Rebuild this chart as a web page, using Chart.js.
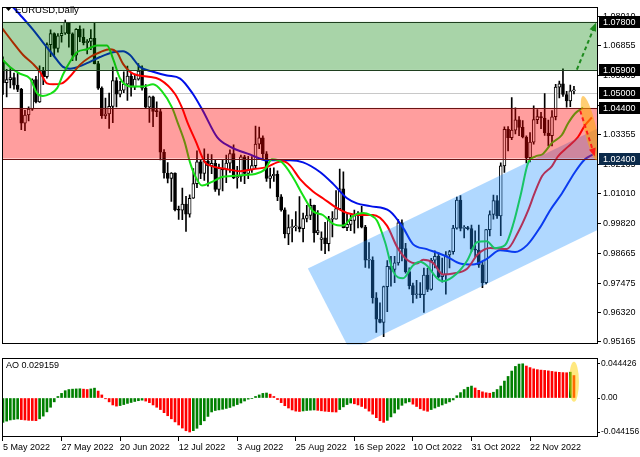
<!DOCTYPE html>
<html>
<head>
<meta charset="utf-8">
<script src="https://cdn.jsdelivr.net/npm/chart.js@4.4.1/dist/chart.umd.min.js"></script>
<style>
  body { margin: 0; background: #fff; width: 640px; height: 457px; overflow: hidden; position: relative; }
  canvas { position: absolute; left: 0; }
  #price { top: 0; }
  #ao { top: 352px; }
</style>
</head>
<body>
<canvas id="price" width="640" height="352" style="width:640px;height:352px"></canvas>
<canvas id="ao" width="640" height="105" style="width:640px;height:105px"></canvas>
<script>
// EURUSD daily, 5 May - 8 Dec 2022 (bar 127 is the short Sunday bar)
const opens = [1.0621,1.0540,1.0552,1.0560,1.0530,1.0513,1.0380,1.0412,1.0435,1.0552,
  1.0464,1.0585,1.0563,1.0690,1.0734,1.0675,1.0725,1.0735,1.0778,1.0733,
  1.0648,1.0750,1.0719,1.0698,1.0703,1.0715,1.0615,1.0518,1.0409,1.0416,
  1.0446,1.0548,1.0494,1.0510,1.0534,1.0566,1.0522,1.0554,1.0585,1.0518,
  1.0443,1.0484,1.0426,1.0425,1.0265,1.0183,1.0161,1.0183,1.0038,1.0036,
  1.0060,1.0020,1.0083,1.0141,1.0227,1.0181,1.0230,1.0212,1.0221,1.0118,
  1.0201,1.0195,1.0222,1.0260,1.0163,1.0169,1.0247,1.0181,1.0196,1.0212,
  1.0297,1.0322,1.0259,1.0161,1.0172,1.0178,1.0089,1.0037,0.9942,0.9967,
  0.9970,0.9970,0.9963,1.0003,1.0015,1.0055,0.9946,0.9920,0.9927,0.9904,
  1.0000,1.0000,1.0042,1.0120,0.9967,0.9980,0.9996,1.0015,1.0025,0.9969,
  0.9838,0.9839,0.9690,0.9605,0.9593,0.9734,0.9814,0.9802,0.9828,0.9986,
  0.9884,0.9793,0.9738,0.9702,0.9705,0.9702,0.9780,0.9723,0.9838,0.9854,
  0.9773,0.9782,0.9859,0.9872,0.9965,1.0076,0.9964,0.9966,0.9963,0.9882,
  0.9878,0.9820,0.9750,0.9959,1.0019,1.0074,1.0013,1.0211,1.0355,1.0322,
  1.0352,1.0393,1.0363,1.0325,1.0243,1.0305,1.0394,1.0406,1.0400,1.0341,
  1.0330,1.0405,1.0522,1.0535,1.0493,1.0468,1.0507];
const highs = [1.0642,1.0592,1.0595,1.0578,1.0577,1.0517,1.0430,1.0444,1.0555,1.0565,
  1.0606,1.0600,1.0697,1.0748,1.0737,1.0734,1.0765,1.0787,1.0778,1.0737,
  1.0753,1.0764,1.0752,1.0710,1.0749,1.0774,1.0624,1.0523,1.0479,1.0499,
  1.0601,1.0560,1.0545,1.0583,1.0605,1.0579,1.0570,1.0615,1.0606,1.0532,
  1.0487,1.0487,1.0464,1.0438,1.0275,1.0224,1.0185,1.0184,1.0052,1.0123,
  1.0091,1.0097,1.0200,1.0270,1.0233,1.0278,1.0258,1.0256,1.0236,1.0218,
  1.0234,1.0254,1.0274,1.0294,1.0209,1.0254,1.0253,1.0249,1.0248,1.0368,
  1.0364,1.0330,1.0267,1.0202,1.0203,1.0191,1.0098,1.0045,1.0018,0.9999,
  1.0030,1.0090,1.0025,1.0055,1.0080,1.0056,1.0034,0.9950,0.9988,1.0012,
  1.0030,1.0113,1.0198,1.0187,1.0020,1.0018,1.0036,1.0030,1.0051,0.9976,
  0.9908,0.9852,0.9710,0.9670,0.9736,0.9837,0.9854,0.9854,0.9999,0.9998,
  0.9905,0.9808,0.9748,0.9759,0.9750,0.9807,0.9806,0.9846,0.9875,0.9867,
  0.9847,0.9872,0.9877,0.9976,1.0088,1.0094,0.9975,0.9972,0.9977,0.9954,
  0.9977,0.9830,0.9960,1.0033,1.0096,1.0094,1.0223,1.0365,1.0366,1.0481,
  1.0440,1.0406,1.0390,1.0330,1.0343,1.0448,1.0433,1.0423,1.0497,1.0392,
  1.0429,1.0533,1.0546,1.0594,1.0505,1.0530,1.0525];
const lows = [1.0493,1.0483,1.0519,1.0514,1.0504,1.0354,1.0350,1.0389,1.0430,1.0460,
  1.0462,1.0532,1.0557,1.0642,1.0643,1.0660,1.0700,1.0730,1.0680,1.0627,
  1.0628,1.0702,1.0689,1.0653,1.0670,1.0614,1.0513,1.0398,1.0397,1.0359,
  1.0382,1.0444,1.0483,1.0500,1.0470,1.0486,1.0512,1.0550,1.0510,1.0438,
  1.0383,1.0366,1.0405,1.0235,1.0162,1.0144,1.0071,1.0033,0.9999,0.9998,
  0.9952,1.0008,1.0082,1.0125,1.0160,1.0154,1.0131,1.0180,1.0110,1.0095,
  1.0112,1.0145,1.0185,1.0160,1.0123,1.0150,1.0141,1.0160,1.0185,1.0202,
  1.0279,1.0236,1.0150,1.0123,1.0150,1.0074,1.0032,0.9926,0.9900,0.9911,
  0.9954,0.9950,0.9911,0.9990,0.9998,0.9910,0.9939,0.9877,0.9864,0.9875,
  0.9930,1.0000,1.0038,0.9966,0.9955,0.9955,0.9945,0.9966,0.9966,0.9810,
  0.9807,0.9669,0.9553,0.9591,0.9536,0.9635,0.9736,0.9750,0.9819,0.9836,
  0.9787,0.9725,0.9670,0.9687,0.9690,0.9632,0.9714,0.9720,0.9808,0.9768,
  0.9752,0.9704,0.9808,0.9862,0.9961,0.9954,0.9926,0.9958,0.9872,0.9851,
  0.9810,0.9730,0.9745,0.9934,1.0000,1.0003,0.9935,1.0185,1.0270,1.0315,
  1.0337,1.0330,1.0321,1.0223,1.0227,1.0297,1.0378,1.0358,1.0331,1.0290,
  1.0290,1.0393,1.0479,1.0485,1.0443,1.0445,1.0495];
const closes = [1.0540,1.0552,1.0560,1.0530,1.0513,1.0380,1.0412,1.0435,1.0551,1.0464,
  1.0585,1.0563,1.0690,1.0734,1.0675,1.0725,1.0735,1.0778,1.0733,1.0648,
  1.0750,1.0719,1.0698,1.0703,1.0715,1.0615,1.0518,1.0409,1.0416,1.0446,
  1.0548,1.0494,1.0510,1.0534,1.0566,1.0522,1.0554,1.0585,1.0518,1.0443,
  1.0484,1.0426,1.0425,1.0265,1.0183,1.0161,1.0183,1.0038,1.0036,1.0060,
  1.0020,1.0083,1.0141,1.0227,1.0181,1.0230,1.0212,1.0221,1.0118,1.0201,
  1.0195,1.0222,1.0260,1.0163,1.0169,1.0247,1.0181,1.0196,1.0212,1.0297,
  1.0322,1.0259,1.0161,1.0172,1.0178,1.0089,1.0037,0.9942,0.9967,0.9970,
  0.9970,0.9963,1.0003,1.0015,1.0055,0.9946,0.9955,0.9927,0.9904,1.0000,
  1.0000,1.0042,1.0120,0.9967,0.9980,0.9996,1.0015,1.0025,0.9969,0.9838,
  0.9839,0.9690,0.9605,0.9593,0.9734,0.9814,0.9802,0.9828,0.9986,0.9884,
  0.9793,0.9738,0.9702,0.9705,0.9702,0.9780,0.9723,0.9838,0.9854,0.9773,
  0.9782,0.9859,0.9872,0.9965,1.0076,0.9964,0.9966,0.9963,0.9882,0.9878,
  0.9820,0.9750,0.9959,1.0019,1.0074,1.0013,1.0211,1.0355,1.0322,1.0352,
  1.0393,1.0363,1.0325,1.0243,1.0305,1.0394,1.0406,1.0400,1.0341,1.0330,
  1.0405,1.0522,1.0535,1.0493,1.0468,1.0507,1.0510];

// Alligator lines (bar position, price)
const jawIdx = [1.4,2.5,5.2,8.2,10.9,13.7,16.4,18.3,21.9,26.5,30.1,32.8,34.7,37.4,41,44.8,48.4,51.9,54.6,58.5,62,67.5,72.1,78.4,82,86.6,90.2,94,96.7,100.3,105.7,109.3,112,115.8,121.3,124.9,128.4,132.2,135.8,139.9,143.2,146.7,149.5,152.7,156.3,159,161.2];
const jawVal = [1.0852,1.0841,1.0799,1.0749,1.0699,1.0649,1.0602,1.0595,1.0610,1.0641,1.0660,1.0664,1.0649,1.0602,1.0583,1.0568,1.0556,1.0495,1.0429,1.0325,1.0287,1.0256,1.0233,1.0233,1.0225,1.0187,1.0140,1.0083,1.0063,1.0052,1.0032,0.9967,0.9902,0.9882,0.9852,0.9825,0.9821,0.9844,0.9878,0.9871,0.9898,0.9967,1.0036,1.0102,1.0187,1.0237,1.0256];
const teethIdx = [-0.3,2.7,5.5,8.2,10.1,12.0,13.7,16.1,18.3,21.0,23.8,26.5,29.2,31.1,32.8,35.5,39.3,42.9,47.0,48.9,50.5,52.5,55.2,57.1,61.2,64.8,68.3,72.1,74.9,76.5,78.4,81.1,84.7,87.4,91.3,94.0,97.5,101.1,104.9,107.7,110.4,113.1,114.8,117.5,120.2,123.0,126.8,129.8,133.1,137.7,140.7,143.4,145.4,147.3,150.0,151.6,154.4,157.1,159.0,160.9];
const teethVal = [1.0756,1.0699,1.0649,1.0614,1.0583,1.0537,1.0533,1.0537,1.0564,1.0610,1.0641,1.0660,1.0672,1.0660,1.0614,1.0575,1.0564,1.0552,1.0495,1.0441,1.0379,1.0314,1.0225,1.0210,1.0198,1.0190,1.0198,1.0206,1.0225,1.0229,1.0213,1.0160,1.0110,1.0083,1.0044,1.0025,1.0017,1.0017,0.9975,0.9890,0.9840,0.9825,0.9840,0.9828,0.9782,0.9786,0.9805,0.9863,0.9887,0.9883,0.9948,1.0032,1.0109,1.0171,1.0210,1.0248,1.0287,1.0325,1.0371,1.0402];
const lipsIdx = [-0.3,1.9,4.6,7.4,9.3,10.9,12.8,14.8,16.4,18.3,20.2,23.0,25.7,28.4,30.1,32.0,34.7,38.3,41.0,43.4,46.2,47.8,49.7,51.1,52.5,54.4,57.1,59.8,62.6,66.1,68.9,71.6,73.5,76.2,79.0,82.0,84.7,87.4,90.2,92.9,95.6,98.4,100.3,102.2,104.4,106.6,109.3,112.0,113.9,115.8,118.6,120.2,124.0,126.8,129.5,132.2,134.4,137.2,139.5,141.5,143.4,145.4,147.3,150.0,152.7,154.4,156.3,158.5];
const lipsVal = [1.0633,1.0602,1.0575,1.0556,1.0498,1.0487,1.0495,1.0518,1.0572,1.0622,1.0660,1.0672,1.0687,1.0687,1.0633,1.0556,1.0525,1.0525,1.0533,1.0506,1.0441,1.0379,1.0302,1.0225,1.0171,1.0133,1.0148,1.0167,1.0171,1.0175,1.0179,1.0198,1.0237,1.0225,1.0171,1.0094,1.0032,1.0017,0.9982,0.9975,1.0013,1.0025,1.0017,0.9994,0.9909,0.9794,0.9767,0.9817,0.9832,0.9817,0.9767,0.9755,0.9786,0.9836,0.9909,0.9913,0.9886,0.9898,0.9985,1.0100,1.0220,1.0248,1.0256,1.0302,1.0333,1.0379,1.0418,1.0441];

// Awesome Oscillator, one value per bar
const aoValues = [-0.0316,-0.0300,-0.0285,-0.0278,-0.0272,-0.0280,-0.0285,-0.0290,-0.0292,-0.0294,
  -0.0270,-0.0235,-0.0180,-0.0120,-0.0050,0.0020,0.0060,0.0095,0.0110,0.0115,
  0.0118,0.0120,0.0115,0.0110,0.0118,0.0128,0.0090,0.0040,-0.0010,-0.0050,
  -0.0090,-0.0105,-0.0098,-0.0085,-0.0070,-0.0058,-0.0045,-0.0035,-0.0028,-0.0040,
  -0.0060,-0.0090,-0.0120,-0.0150,-0.0190,-0.0230,-0.0270,-0.0310,-0.0350,-0.0390,
  -0.0425,-0.044156,-0.0424,-0.0393,-0.0347,-0.0296,-0.0239,-0.0181,-0.0162,-0.0154,
  -0.0146,-0.0135,-0.0123,-0.0104,-0.0085,-0.0065,-0.0039,-0.0015,-0.0005,0.0020,
  0.0040,0.0060,0.0065,0.0050,0.0020,-0.0020,-0.0060,-0.0100,-0.0130,-0.0155,
  -0.0170,-0.0175,-0.0168,-0.0162,-0.0158,-0.0155,-0.0160,-0.0166,-0.0172,-0.0176,
  -0.0180,-0.0182,-0.0150,-0.0115,-0.0085,-0.0065,-0.0075,-0.0090,-0.0110,-0.0135,
  -0.0170,-0.0210,-0.0255,-0.0295,-0.0316,-0.0290,-0.0245,-0.0195,-0.0145,-0.0095,
  -0.0065,-0.0050,-0.0080,-0.0110,-0.0140,-0.0160,-0.0172,-0.0150,-0.0130,-0.0110,
  -0.0090,-0.0070,-0.0050,-0.0025,0.0030,0.0070,0.0110,0.0140,0.0155,0.0130,
  0.0100,0.0080,0.0068,0.0062,0.0075,0.0110,0.0155,0.0220,0.0280,0.0350,
  0.0410,0.0440,0.044426,0.0415,0.0395,0.0378,0.0368,0.0362,0.0358,0.0352,
  0.0345,0.0338,0.0333,0.0330,0.0328,0.0335,0.029159];

const tickIdx = [0, 16, 32, 48, 64, 80, 96, 112, 128, 144];
const tickLabels = ['5 May 2022', '27 May 2022', '20 Jun 2022', '12 Jul 2022', '3 Aug 2022',
  '25 Aug 2022', '16 Sep 2022', '10 Oct 2022', '31 Oct 2022', '22 Nov 2022'];
const priceTicks = [0.95165, 0.96320, 0.97475, 0.98665, 0.99820, 1.01010, 1.02165, 1.03355, 1.04510, 1.05665, 1.06855, 1.08010];
const aoTicks = [-0.044156, 0, 0.044426];
const levelPrices = [1.07800, 1.05900, 1.05000, 1.04400, 1.02400];
const greenZone = [1.0590, 1.0780];
const redZone = [1.0240, 1.0440];
const midLine = 1.0500;
const channelIdx = [83.3, 170, 170, 94.8];
const channelPrice = [0.98053, 1.04114, 1.00111, 0.94819];
const upArrowIdx = [156.8, 162.0];
const upArrowPrice = [1.0591, 1.0776];
const downArrowIdx = [157.7, 161.7];
const downArrowPrice = [1.0429, 1.0248];
const focusIdx = 160.4, focusPrice = 1.0360;
const aoFocus = 0.021;

// view window
const X_MIN = -0.273, X_MAX = 162.57;
const FONT = '"Liberation Sans", Arial, sans-serif';
const levelBoxColors = ['#000', '#000', '#000', '#000', '#0b2a4a'];

function arrow(ctx, x0, y0, x1, y1, color) {
  const ang = Math.atan2(y1 - y0, x1 - x0);
  const head = 9;
  ctx.strokeStyle = color;
  ctx.fillStyle = color;
  ctx.lineWidth = 2;
  ctx.setLineDash([4, 3]);
  ctx.beginPath();
  ctx.moveTo(x0, y0);
  ctx.lineTo(x1 - head * 0.8 * Math.cos(ang), y1 - head * 0.8 * Math.sin(ang));
  ctx.stroke();
  ctx.setLineDash([]);
  ctx.beginPath();
  ctx.moveTo(x1, y1);
  ctx.lineTo(x1 - head * Math.cos(ang - 0.4), y1 - head * Math.sin(ang - 0.4));
  ctx.lineTo(x1 - head * Math.cos(ang + 0.4), y1 - head * Math.sin(ang + 0.4));
  ctx.closePath();
  ctx.fill();
}

function frame(ctx, a) {
  ctx.strokeStyle = '#000';
  ctx.lineWidth = 1;
  ctx.strokeRect(Math.round(a.left) + 0.5, Math.round(a.top) + 0.5,
    Math.round(a.right - a.left) - 1, Math.round(a.bottom - a.top) - 1);
}

const priceDecor = {
  id: 'priceDecor',
  beforeDatasetsDraw(chart) {
    const { ctx, chartArea: a, scales: { y } } = chart;
    ctx.save();
    ctx.strokeStyle = '#c8c8c8';
    ctx.lineWidth = 1;
    const ym = Math.round(y.getPixelForValue(midLine)) + 0.5;
    ctx.beginPath(); ctx.moveTo(a.left, ym); ctx.lineTo(a.right, ym); ctx.stroke();
    ctx.restore();
  },
  afterDatasetsDraw(chart) {
    const { ctx, chartArea: a, scales: { x, y } } = chart;
    ctx.save();
    ctx.beginPath();
    ctx.rect(a.left, a.top, a.right - a.left, a.bottom - a.top);
    ctx.clip();

    // rising channel
    ctx.fillStyle = 'rgba(30,144,255,0.35)';
    ctx.beginPath();
    channelIdx.forEach((v, k) => {
      const px = x.getPixelForValue(v), py = y.getPixelForValue(channelPrice[k]);
      if (k) ctx.lineTo(px, py); else ctx.moveTo(px, py);
    });
    ctx.closePath();
    ctx.fill();

    // zones
    const zone = (r, fill, edge) => {
      const y0 = y.getPixelForValue(r[0]), y1 = y.getPixelForValue(r[1]);
      ctx.fillStyle = fill;
      ctx.fillRect(a.left, y1, a.right - a.left, y0 - y1);
      ctx.strokeStyle = edge;
      ctx.lineWidth = 1;
      [y0, y1].forEach(p => {
        const yy = Math.round(p) + 0.5;
        ctx.beginPath(); ctx.moveTo(a.left, yy); ctx.lineTo(a.right, yy); ctx.stroke();
      });
    };
    zone(redZone, 'rgba(255,0,0,0.38)', '#6b1414');
    zone(greenZone, 'rgba(0,128,0,0.34)', '#1f3f1f');

    // highlight
    ctx.fillStyle = 'rgba(255,165,0,0.55)';
    ctx.beginPath();
    ctx.ellipse(x.getPixelForValue(focusIdx), y.getPixelForValue(focusPrice), 6, 33, -0.22, 0, Math.PI * 2);
    ctx.fill();

    arrow(ctx, x.getPixelForValue(upArrowIdx[0]), y.getPixelForValue(upArrowPrice[0]),
      x.getPixelForValue(upArrowIdx[1]), y.getPixelForValue(upArrowPrice[1]), '#1d8a1d');
    arrow(ctx, x.getPixelForValue(downArrowIdx[0]), y.getPixelForValue(downArrowPrice[0]),
      x.getPixelForValue(downArrowIdx[1]), y.getPixelForValue(downArrowPrice[1]), '#ff1a1a');
    ctx.restore();
  },
  afterDraw(chart) {
    const { ctx, chartArea: a, scales: { y } } = chart;
    ctx.save();
    frame(ctx, a);
    ctx.font = '9px ' + FONT;
    ctx.textBaseline = 'middle';
    ctx.textAlign = 'left';
    levelPrices.forEach((p, k) => {
      const py = Math.round(y.getPixelForValue(p));
      ctx.fillStyle = levelBoxColors[k];
      ctx.fillRect(a.right + 1, py - 6, 41, 12);
      ctx.fillStyle = '#fff';
      ctx.fillText(p.toFixed(5), a.right + 5, py + 0.5);
    });
    // title
    ctx.fillStyle = '#000';
    ctx.beginPath();
    ctx.moveTo(5, 7); ctx.lineTo(12, 7); ctx.lineTo(8.5, 11);
    ctx.closePath();
    ctx.fill();
    ctx.font = '9.5px ' + FONT;
    ctx.fillText('EURUSD,Daily', 15, 10);
    ctx.restore();
  }
};

const aoDecor = {
  id: 'aoDecor',
  afterDraw(chart) {
    const { ctx, chartArea: a, scales: { x, y } } = chart;
    ctx.save();
    ctx.beginPath();
    ctx.rect(a.left, a.top, a.right - a.left, a.bottom - a.top);
    ctx.clip();
    ctx.fillStyle = 'rgba(255,210,0,0.5)';
    ctx.beginPath();
    ctx.ellipse(x.getPixelForValue(aoValues.length - 1), y.getPixelForValue(aoFocus), 5, 20, 0, 0, Math.PI * 2);
    ctx.fill();
    ctx.restore();
    ctx.save();
    frame(ctx, a);
    ctx.fillStyle = '#000';
    ctx.font = '9px ' + FONT;
    ctx.textBaseline = 'middle';
    ctx.textAlign = 'left';
    ctx.fillText('AO ' + aoValues[aoValues.length - 1].toFixed(6), 6, a.top + 7);
    ctx.restore();
  }
};

const pts = (xs, ys) => xs.map((v, k) => ({ x: v, y: ys[k] }));
const lineSet = (label, xs, ys, color, order) => ({
  type: 'line', label, data: pts(xs, ys), borderColor: color, borderWidth: 2,
  pointRadius: 0, cubicInterpolationMode: 'monotone', order
});

new Chart(document.getElementById('price'), {
  type: 'bar',
  data: {
    datasets: [
      lineSet('Lips', lipsIdx, lipsVal, '#16e016', 0),
      lineSet('Teeth', teethIdx, teethVal, '#ff0000', 1),
      lineSet('Jaw', jawIdx, jawVal, '#0010e8', 2),
      {
        label: 'Body',
        data: opens.map((o, i) => ({ x: i, y: [o, closes[i]] })),
        backgroundColor: opens.map((o, i) => closes[i] >= o ? '#ffffff' : '#000000'),
        borderColor: '#000', borderWidth: 1, borderSkipped: false,
        barThickness: 3, minBarLength: 1, grouped: false, order: 3
      },
      {
        label: 'Wick',
        data: lows.map((l, i) => ({ x: i, y: [l, highs[i]] })),
        backgroundColor: '#000', barThickness: 1, grouped: false, order: 4
      }
    ]
  },
  options: {
    responsive: false, animation: false, events: [],
    layout: { padding: { left: 2, top: 4, bottom: 2, right: 0 } },
    plugins: { legend: { display: false }, tooltip: { enabled: false } },
    scales: {
      x: { type: 'linear', min: X_MIN, max: X_MAX, offset: false, display: false },
      y: {
        position: 'right', min: 0.950495, max: 1.083705,
        afterBuildTicks: s => { s.ticks = priceTicks.map(v => ({ value: v })); },
        afterFit: s => { s.width = 42; },
        ticks: { callback: v => v.toFixed(5), font: { family: FONT, size: 9 }, color: '#000', padding: 2 },
        grid: { drawOnChartArea: false, tickLength: 3, color: '#000' },
        border: { display: false }
      }
    }
  },
  plugins: [priceDecor]
});

new Chart(document.getElementById('ao'), {
  type: 'bar',
  data: {
    datasets: [{
      label: 'AO',
      data: aoValues.map((v, i) => ({ x: i, y: v })),
      backgroundColor: aoValues.map((v, i) => (i === 0 || v > aoValues[i - 1]) ? '#008000' : '#ff0000'),
      barThickness: 2, grouped: false
    }]
  },
  options: {
    responsive: false, animation: false, events: [],
    layout: { padding: { left: 2, top: 2, bottom: 0, right: 0 } },
    plugins: { legend: { display: false }, tooltip: { enabled: false } },
    scales: {
      x: {
        type: 'linear', min: X_MIN, max: X_MAX, offset: false,
        afterBuildTicks: s => { s.ticks = tickIdx.map(v => ({ value: v })); },
        afterFit: s => { s.height = 20; },
        ticks: {
          callback: v => tickLabels[tickIdx.indexOf(v)], align: 'start', autoSkip: false,
          maxRotation: 0, font: { family: FONT, size: 9 }, color: '#000', padding: 1
        },
        grid: { drawOnChartArea: false, offset: false, tickLength: 4, color: '#000' },
        border: { display: false }
      },
      y: {
        position: 'right', min: -0.0506, max: 0.0518,
        afterBuildTicks: s => { s.ticks = aoTicks.map(v => ({ value: v })); },
        afterFit: s => { s.width = 42; },
        ticks: { callback: v => v === 0 ? '0.00' : v.toFixed(6), font: { family: FONT, size: 8.5 }, color: '#000', padding: 1 },
        grid: { drawOnChartArea: false, tickLength: 2, color: '#000' },
        border: { display: false }
      }
    }
  },
  plugins: [aoDecor]
});
</script>
</body>
</html>
